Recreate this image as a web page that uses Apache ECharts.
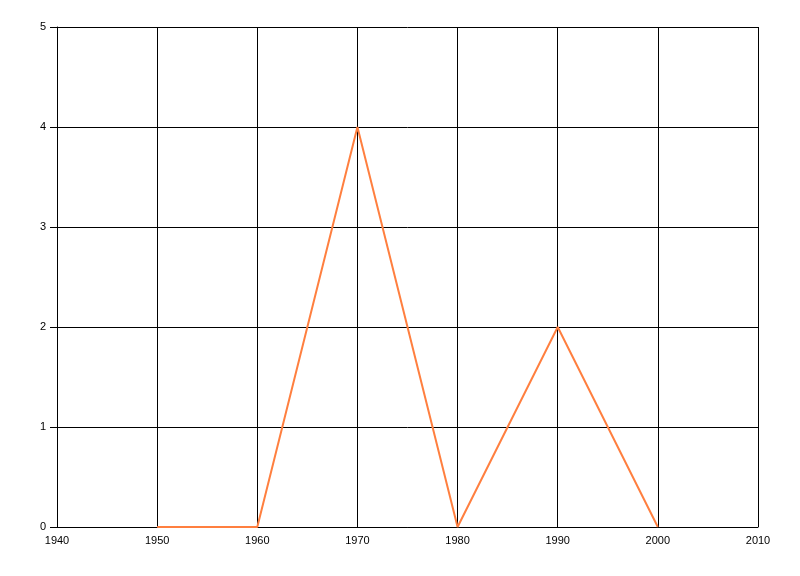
<!DOCTYPE html>
<html><head><meta charset="utf-8">
<script src="https://cdn.jsdelivr.net/npm/echarts@6/dist/echarts.min.js"></script>
<style>html,body{margin:0;padding:0;background:#fff}#c{width:800px;height:576px}</style>
</head><body><div id="c"></div>
<script>
const years = [1950, 1960, 1970, 1980, 1990, 2000];
const values = [0, 0, 4, 0, 2, 0];
const xTicks = [1940, 2010, 10];
const yTicks = [0, 5, 1];

const chart = echarts.init(document.getElementById('c'), null, {renderer: 'canvas'});
const font = {fontFamily: 'Liberation Sans, Arial, sans-serif', fontSize: 11, color: '#000'};
chart.setOption({
  animation: false,
  backgroundColor: '#fff',
  grid: {left: 57, right: 42, top: 27, bottom: 49, containLabel: false},
  xAxis: {
    type: 'value', min: xTicks[0], max: xTicks[1], interval: xTicks[2],
    axisLine: {show: true, onZero: false, lineStyle: {color: '#000', width: 1}},
    axisTick: {show: false},
    splitLine: {show: true, lineStyle: {color: '#000', width: 1}},
    axisLabel: Object.assign({margin: 8, formatter: v => String(v)}, font)
  },
  yAxis: {
    type: 'value', min: yTicks[0], max: yTicks[1], interval: yTicks[2],
    axisLine: {show: true, lineStyle: {color: '#000', width: 1}},
    axisTick: {show: true, length: 7, lineStyle: {color: '#000', width: 1}},
    splitLine: {show: true, lineStyle: {color: '#000', width: 1}},
    axisLabel: Object.assign({margin: 11}, font)
  },
  series: [{
    type: 'line',
    data: years.map((y, i) => [y, values[i]]),
    showSymbol: false,
    symbol: 'none',
    lineStyle: {color: '#ff7f3f', width: 2},
    z: 10
  }]
});
</script></body></html>
